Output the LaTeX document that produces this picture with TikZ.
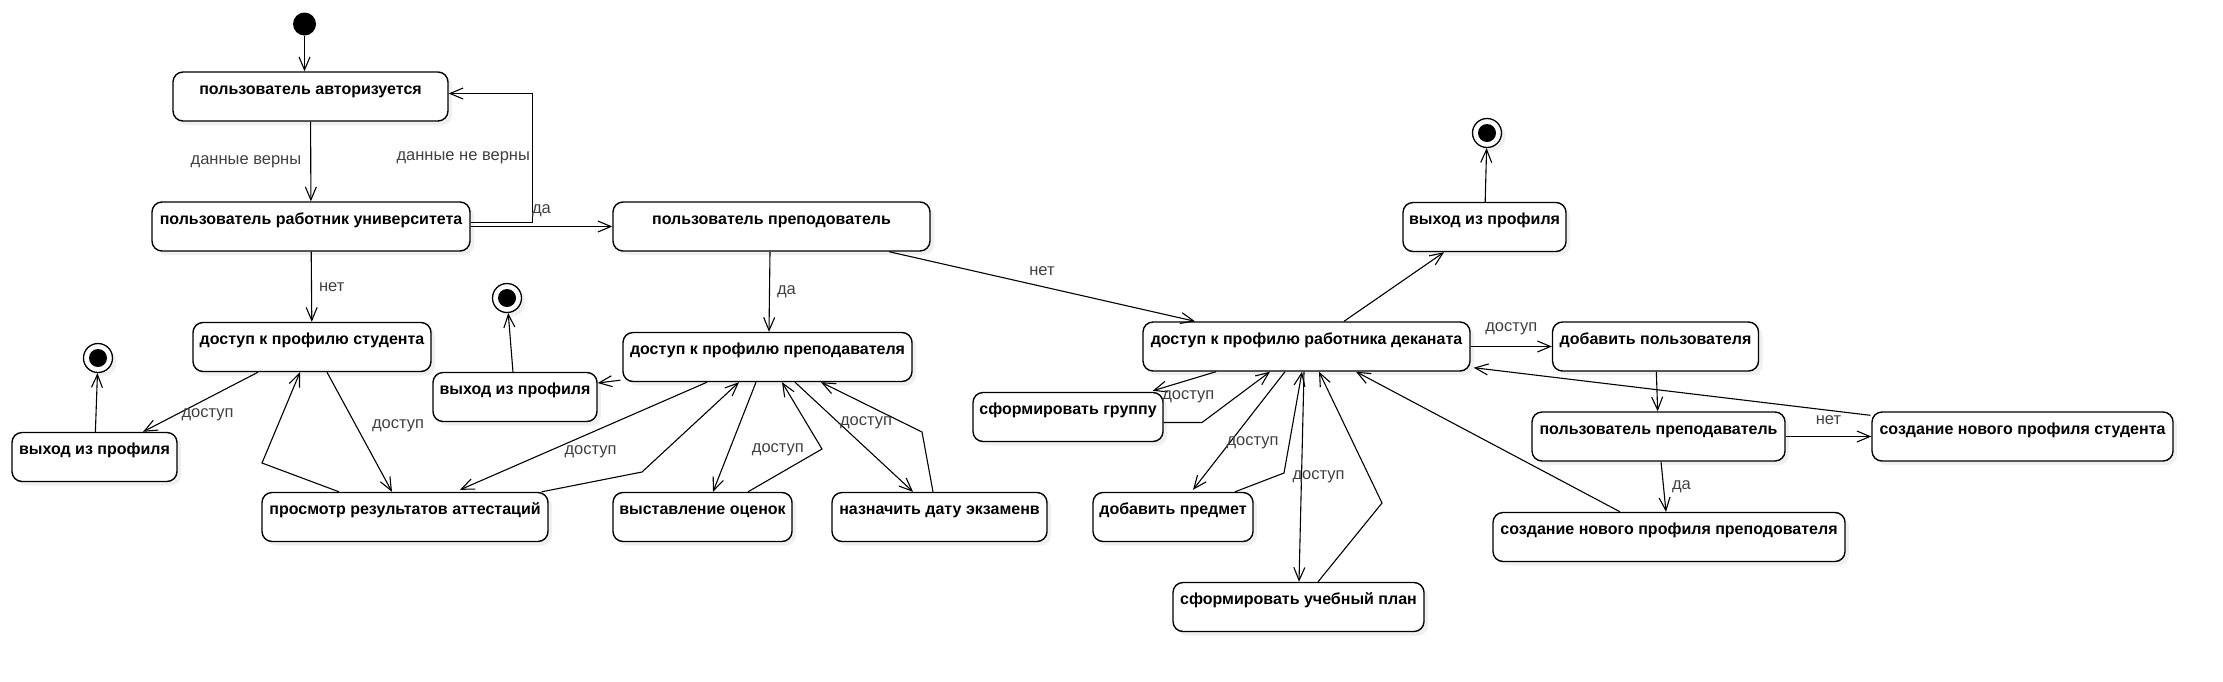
\documentclass[tikz,border=0pt]{standalone}
\usepackage{fontspec}
\setmainfont{Liberation Sans}
\usepackage{tikz}
\usetikzlibrary{shadows}
\usetikzlibrary{positioning}
\usetikzlibrary{arrows.meta}
\usetikzlibrary{calc}

\tikzset{
  stt/.style={draw, line width=1.4pt, rounded corners=10pt, fill=white,
    inner xsep=0pt, inner ysep=0pt, text height=22pt, text depth=27pt,
    font=\fontsize{16}{18}\selectfont\bfseries,
    drop shadow={shadow xshift=4pt, shadow yshift=-4pt, opacity=0.12}},
  fin/.style={circle, draw, line width=1.3pt, fill=white, minimum size=29pt, inner sep=0pt,
    drop shadow={shadow xshift=4pt, shadow yshift=-4pt, opacity=0.12}},
  tr/.style={-{Straight Barb[length=13pt,width=11pt]}, line width=1.1pt},
  lbl/.style={font=\fontsize{16.5}{18}\selectfont, text=black!75, inner sep=1pt}
}

\begin{document}
\begin{tikzpicture}[x=1pt, y=-1pt]
 \useasboundingbox (0,0) rectangle (2223,681);

 %start
 \node[circle, fill=black, minimum size=23pt, inner sep=0pt] (init) at (304.5,24) {};
 \foreach \n/\x/\y in {finL/98/358, finM/507/298, finR/1487/133} {
   \node[fin] (\n) at (\x,\y) {};
   \fill (\n) circle (9);
 }

 %left part
 \node[stt, minimum width=275pt] (auth) at (310.5,96.5) {пользователь авторизуется};
 \node[stt, minimum width=318pt] (worker) at (311,226.5) {пользователь работник университета};
 \node[stt, minimum width=238pt] (stud) at (312,347) {доступ к профилю студента};
 \node[stt, minimum width=165pt] (exitL) at (94.5,457) {выход из профиля};
 \node[stt, minimum width=286pt] (results) at (405,517) {просмотр результатов аттестаций};

 %teacher
 \node[stt, minimum width=317pt] (teacher) at (771.5,226.5) {пользователь преподователь};
 \node[stt, minimum width=289pt] (tacc) at (767.5,357) {доступ к профилю преподавателя};
 \node[stt, minimum width=164pt] (exitM) at (515,397) {выход из профиля};
 \node[stt, minimum width=179pt] (grades) at (702.5,517) {выставление оценок};
 \node[stt, minimum width=215pt] (exam) at (939.5,517) {назначить дату экзаменв};

 %dean
 \node[stt, minimum width=327pt] (dean) at (1306.5,346.5) {доступ к профилю работника деканата};
 \node[stt, minimum width=163pt] (exitR) at (1484.5,227) {выход из профиля};
 \node[stt, minimum width=190pt] (group) at (1068,417) {сформировать группу};
 \node[stt, minimum width=160pt] (subject) at (1173,517) {добавить предмет};
 \node[stt, minimum width=251pt] (plan) at (1298.5,607) {сформировать учебный план};
 \node[stt, minimum width=206pt] (adduser) at (1655.5,346.5) {добавить пользователя};
 \node[stt, minimum width=253pt] (tq) at (1658.5,436.5) {пользователь преподаватель};
 \node[stt, minimum width=301pt] (newstud) at (2022.5,436.5) {создание нового профиля студента};
 \node[stt, minimum width=352pt] (newteach) at (1669,537) {создание нового профиля преподователя};

 \foreach \n/\x/\y in {bendA/532.5/93.5, bendM/262/463, bendN/642/472, bendG/822/449,
   bendE/922/432, bendGr/1202/422.5, bendS/1284/473, bendP/1382/503} {
   \coordinate (\n) at (\x,\y);
 }

 %transitions
 \draw[tr] (init) -- (init |- auth.north);
 \draw[tr] (auth) -- (worker) node[lbl, midway, left=8pt] {данные верны};
 \draw[tr] ($(worker.east)+(0,-4)$) -| (bendA) node[lbl, pos=0.75, left=1pt] {данные не верны}
   -- (auth.east |- bendA);
 \draw[tr] (worker) -- (teacher) node[lbl, midway, above=8pt] {да};
 \draw[tr] (worker) -- (stud) node[lbl, midway, right=6pt] {нет};

 \draw[tr] ($(stud.south)+(-54,0)$) -- ($(exitL.north)+(48.5,0)$)
   node[lbl, midway, below=5pt, xshift=7pt] {доступ};
 \draw[tr] (exitL) -- (finL);
 \draw[tr] ($(stud.south)+(15,0)$) -- ($(results.north)+(-13,0)$)
   node[lbl, midway, right=11pt, yshift=6pt] {доступ};
 \draw[tr] ($(results.north)+(-66,0)$) -- (bendM) -- ($(stud.south)+(-12,0)$);

 \draw[tr] ($(teacher.south)+(-1.5,0)$) -- ($(tacc.north)+(1.5,0)$) node[lbl, midway, right=6pt] {да};
 \draw[tr] ($(teacher.south)+(117.5,0)$) -- ($(dean.north)+(-111.5,0)$) node[lbl, midway, above=9pt] {нет};
 \draw[tr] ($(tacc.south west)+(-2,-2)$) -- ($(exitM.east)+(0,-14)$);
 \draw[tr] (exitM) -- (finM);
 \draw[tr] ($(tacc.south)+(-60.5,0)$) -- ($(results.north)+(55,-2)$)
   node[lbl, midway, below=8pt, xshift=7pt] {доступ};
 \draw[tr] ($(results.north east)+(-7,0)$) -- (bendN) -- ($(tacc.south)+(-28.5,0)$);
 \draw[tr] ($(tacc.south)+(-11.5,0)$) -- ($(grades.north)+(10.5,0)$)
   node[lbl, pos=0.62, right=21pt] {доступ};
 \draw[tr] ($(grades.north)+(45.5,0)$) -- (bendG) -- ($(tacc.south)+(14.5,0)$);
 \draw[tr] ($(tacc.south)+(27.5,0)$) -- ($(exam.north)+(-26.5,0)$)
   node[lbl, midway, xshift=12pt, yshift=14pt] {доступ};
 \draw[tr] ($(exam.north)+(-6.5,0)$) -- (bendE) -- ($(tacc.south)+(53.5,0)$);

 \draw[tr] ($(dean.north)+(37.5,0)$) -- ($(exitR.south)+(-40.5,0)$);
 \draw[tr] (exitR) -- (finR);
 \draw[tr] (dean) -- (adduser) node[lbl, midway, above=10pt] {доступ};
 \draw[tr] (adduser) -- (tq);
 \draw[tr] (tq) -- (newstud) node[lbl, midway, above=10pt] {нет};
 \draw[tr] ($(newstud.north west)+(-1,4)$) -- ($(dean.south east)+(3,-4)$);
 \draw[tr] ($(tq.south)+(2.5,0)$) -- ($(newteach.north)+(-3,0)$) node[lbl, midway, right=7pt] {да};
 \draw[tr] ($(newteach.north)+(-49,0)$) -- ($(dean.south)+(49.5,0)$);

 \draw[tr] ($(dean.south)+(-90.5,0)$) -- ($(group.north east)+(-11,-1)$)
   node[lbl, midway, below=8pt, xshift=4pt] {доступ};
 \draw[tr] ($(group.east)+(0,5.5)$) -- (bendGr) -- ($(dean.south)+(-36.5,0)$);
 \draw[tr] ($(dean.south)+(-21.5,0)$) -- ($(subject.north)+(20,-2)$)
   node[lbl, midway, xshift=13.5pt, yshift=-12pt] {доступ};
 \draw[tr] ($(subject.north)+(62,0)$) -- (bendS) -- ($(dean.south)+(-4.5,0)$);
 \draw[tr] ($(dean.south)+(-2.5,0)$) -- ($(plan.north)+(0.5,0)$)
   node[lbl, midway, xshift=17pt] {доступ};
 \draw[tr] ($(plan.north)+(19.5,0)$) -- (bendP) -- ($(dean.south)+(12.5,0)$);

\end{tikzpicture}
\end{document}
